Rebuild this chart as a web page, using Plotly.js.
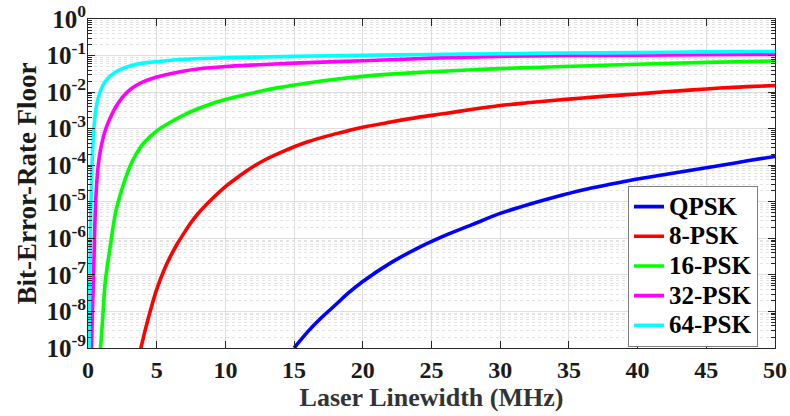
<!DOCTYPE html>
<html>
<head>
<meta charset="utf-8">
<script src="https://cdn.plot.ly/plotly-3.0.1.min.js"></script>
<style>html,body{margin:0;padding:0;background:#fff;}#chart{width:790px;height:416px;}</style>
</head>
<body>
<div id="chart"></div>
<script>
// ---- data ----
const seriesNames = ['QPSK', '8-PSK', '16-PSK', '32-PSK', '64-PSK'];
const seriesColors = ['#0000ff', '#ff0000', '#00ff00', '#ff00ff', '#00ffff'];

const qpskX = [15, 16, 17, 18, 19, 20, 22, 24, 26, 28, 30, 32, 34, 36, 38, 40, 42, 44, 46, 48, 50];
const qpskY = [1.0e-9, 2.8e-9, 6.8e-9, 1.5e-8, 3.3e-8, 6.6e-8, 2.1e-7, 5.4e-7, 1.2e-6, 2.4e-6, 4.8e-6, 8.3e-6, 1.35e-5, 2.1e-5, 3.0e-5, 4.2e-5, 5.6e-5, 7.4e-5, 9.8e-5, 1.32e-4, 1.74e-4];

const psk8X = [3.8, 4.2, 4.6, 5, 5.5, 6, 6.5, 7, 7.5, 8, 9, 10, 11, 12, 13, 14, 15, 16, 18, 20, 22, 24, 26, 28, 30, 32, 34, 36, 38, 40, 42, 44, 46, 48, 50];
const psk8Y = [8.3e-10, 3.5e-9, 1.26e-8, 4.0e-8, 1.26e-7, 3.2e-7, 7.1e-7, 1.41e-6, 2.7e-6, 4.7e-6, 1.17e-5, 2.6e-5, 5.0e-5, 9.1e-5, 1.48e-4, 2.2e-4, 3.2e-4, 4.4e-4, 7.2e-4, 1.1e-3, 1.51e-3, 2.04e-3, 2.6e-3, 3.4e-3, 4.3e-3, 5.1e-3, 6.0e-3, 6.9e-3, 7.9e-3, 8.9e-3, 1.02e-2, 1.15e-2, 1.29e-2, 1.41e-2, 1.51e-2];

const psk16X = [0.9, 1.05, 1.25, 1.6, 2.0, 2.5, 3, 3.5, 4, 5, 6, 7, 8, 9, 10, 12, 14, 16, 18, 20, 22, 25, 28, 30, 33, 36, 40, 45, 50];
const psk16Y = [8.9e-10, 5.0e-9, 6.3e-8, 5.4e-7, 5.0e-6, 2.4e-5, 8.3e-5, 2.0e-4, 3.8e-4, 8.7e-4, 1.5e-3, 2.4e-3, 3.5e-3, 4.8e-3, 6.3e-3, 9.5e-3, 1.35e-2, 1.78e-2, 2.24e-2, 2.7e-2, 3.1e-2, 3.6e-2, 4.1e-2, 4.4e-2, 4.8e-2, 5.2e-2, 5.8e-2, 6.5e-2, 7.1e-2];

const psk32X = [0.25, 0.32, 0.4, 0.5, 0.6, 0.75, 0.9, 1.1, 1.3, 1.6, 2, 2.5, 3, 3.5, 4, 5, 6, 7, 8, 10, 12, 15, 20, 25, 30, 35, 40, 45, 50];
const psk32Y = [7.9e-10, 1.0e-8, 7.9e-8, 2.5e-6, 2.0e-5, 1.02e-4, 2.5e-4, 5.5e-4, 1.0e-3, 1.9e-3, 3.8e-3, 7.2e-3, 1.12e-2, 1.51e-2, 1.9e-2, 2.6e-2, 3.2e-2, 3.8e-2, 4.3e-2, 5.0e-2, 5.5e-2, 6.2e-2, 7.2e-2, 8.5e-2, 9.5e-2, 0.100, 0.102, 0.105, 0.107];

const psk64X = [0.08, 0.12, 0.2, 0.27, 0.34, 0.45, 0.63, 0.85, 1.1, 1.5, 2, 2.5, 3, 4, 5, 7, 10, 15, 20, 25, 30, 35, 40, 45, 50];
const psk64Y = [6.3e-10, 3.2e-8, 4.4e-6, 5.0e-5, 2.9e-4, 1.26e-3, 4.5e-3, 9.3e-3, 1.55e-2, 2.5e-2, 3.5e-2, 4.4e-2, 5.1e-2, 6.2e-2, 6.8e-2, 7.9e-2, 8.7e-2, 9.5e-2, 0.102, 0.107, 0.112, 0.117, 0.120, 0.126, 0.129];

const xTickVals = [0, 5, 10, 15, 20, 25, 30, 35, 40, 45, 50];
const xTickText = ['0', '5', '10', '15', '20', '25', '30', '35', '40', '45', '50'];
const yExponents = [0, -1, -2, -3, -4, -5, -6, -7, -8, -9];

// ---- build ----
const xs = [qpskX, psk8X, psk16X, psk32X, psk64X];
const ys = [qpskY, psk8Y, psk16Y, psk32Y, psk64Y];
const traces = seriesNames.map((n, i) => ({
  x: xs[i], y: ys[i], name: '<span style="font-size:25px">' + n + '</span>', type: 'scatter', mode: 'lines',
  line: {color: seriesColors[i], width: 3.6, shape: 'spline', smoothing: 0.7}
}));

const yTickVals = yExponents.map(e => Math.pow(10, e));
const yTickText = yExponents.map(e => '10<sup>' + e + '</sup>');
const yMinorVals = [];
for (let e = -9; e < 0; e++) for (let m = 2; m <= 9; m++) yMinorVals.push(m * Math.pow(10, e));

const serif = 'Liberation Serif, Times New Roman, serif';
const axisColor = '#262626';

const layout = {
  width: 790, height: 416,
  margin: {l: 88, r: 15, t: 19, b: 68},
  paper_bgcolor: '#ffffff', plot_bgcolor: '#ffffff',
  showlegend: true,
  legend: {
    x: 0.786, y: 0.493, xanchor: 'left', yanchor: 'top',
    bgcolor: '#ffffff', bordercolor: '#7f7f7f', borderwidth: 1,
    font: {family: serif, size: 20.5, color: '#000', weight: 'bold'},
    tracegroupgap: 0, itemwidth: 30
  },
  xaxis: {
    range: [0, 50], tickvals: xTickVals, ticktext: xTickText,
    showline: true, mirror: 'ticks', linecolor: axisColor, linewidth: 1,
    ticks: 'inside', ticklen: 7, tickcolor: axisColor,
    showgrid: true, gridcolor: '#dedede', gridwidth: 1, zeroline: false,
    tickfont: {family: serif, size: 24, color: '#1a1a1a', weight: 'bold'},
    title: {text: 'Laser Linewidth (MHz)', standoff: 4, font: {family: serif, size: 26, color: '#333333', weight: 'bold'}}
  },
  yaxis: {
    type: 'log', range: [-9, 0], tickvals: yTickVals, ticktext: yTickText,
    showline: true, mirror: 'ticks', linecolor: axisColor, linewidth: 1,
    ticks: 'inside', ticklen: 7, tickcolor: axisColor, ticklabelstandoff: -4,
    showgrid: true, gridcolor: '#dedede', gridwidth: 1, zeroline: false,
    minor: {tickvals: yMinorVals, ticks: 'inside', ticklen: 4, tickcolor: axisColor, showgrid: true, gridcolor: '#e3e3e3', griddash: 'dot', gridwidth: 1},
    tickfont: {family: serif, size: 25, color: '#1a1a1a', weight: 'bold'},
    title: {text: 'Bit-Error-Rate Floor', standoff: 1, font: {family: serif, size: 27, color: '#1a1a1a', weight: 'bold'}}
  }
};

Plotly.newPlot('chart', traces, layout, {displayModeBar: false, staticPlot: true});
</script>
</body>
</html>
